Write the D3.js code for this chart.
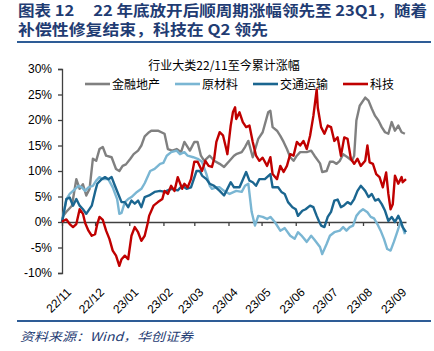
<!DOCTYPE html>
<html>
<head>
  <script src="https://cdnjs.cloudflare.com/ajax/libs/d3/7.8.5/d3.min.js" type="text/javascript"></script>
  <style>
    body { margin: 0; background: #fff; }
    svg { display: block; }
  </style>
</head>
<body>
  <svg id="chart" width="434" height="351"></svg>
  <script>

var seriesNames = ["金融地产", "原材料", "交通运输", "科技"];
var seriesColors = ["#808080", "#7ab6d3", "#1b6690", "#c00000"];
var yTicks = [-10, -5, 0, 5, 10, 15, 20, 25, 30];
var xTickLabels = ["22/11", "22/12", "23/01", "23/02", "23/03", "23/04", "23/05", "23/06", "23/07", "23/08", "23/09"];

// cumulative return since 2022-11 (%)
var finance = [
  ["2022-11-01", 0], ["2022-11-02", 1.2], ["2022-11-05", 2], ["2022-11-10", 3.2], ["2022-11-14", 8.4],
  ["2022-11-17", 6.5], ["2022-11-20", 7.4], ["2022-11-23", 5.2], ["2022-11-26", 6.5], ["2022-11-29", 12.4],
  ["2022-12-02", 12], ["2022-12-05", 14.3], ["2022-12-08", 14.7], ["2022-12-11", 13], ["2022-12-16", 12.7],
  ["2022-12-20", 10.4], ["2022-12-23", 10], ["2022-12-26", 11], ["2022-12-29", 11.3], ["2023-01-02", 12.4],
  ["2023-01-05", 13.3], ["2023-01-09", 14], ["2023-01-12", 15], ["2023-01-15", 16.8], ["2023-01-19", 17.6],
  ["2023-01-21", 17.9], ["2023-01-27", 17.9], ["2023-02-02", 17.3], ["2023-02-05", 14.3], ["2023-02-09", 14],
  ["2023-02-13", 14.3], ["2023-02-17", 13.7], ["2023-02-20", 15.7], ["2023-02-25", 14], ["2023-03-01", 15.7],
  ["2023-03-04", 15.7], ["2023-03-07", 13], ["2023-03-10", 12], ["2023-03-15", 13], ["2023-03-19", 12],
  ["2023-03-24", 11.4], ["2023-03-28", 10.8], ["2023-04-02", 12], ["2023-04-06", 13], ["2023-04-08", 13.3],
  ["2023-04-13", 13.7], ["2023-04-16", 14.7], ["2023-04-19", 15.9], ["2023-04-23", 12.7], ["2023-04-28", 16.3],
  ["2023-05-02", 17.6], ["2023-05-07", 21.5], ["2023-05-09", 21.8], ["2023-05-11", 18.6], ["2023-05-15", 17.9],
  ["2023-05-18", 16.9], ["2023-05-21", 15.7], ["2023-05-24", 14.3], ["2023-05-27", 12.7], ["2023-05-30", 12],
  ["2023-06-02", 13], ["2023-06-05", 13.7], ["2023-06-11", 13.7], ["2023-06-15", 14], ["2023-06-18", 13],
  ["2023-06-23", 11.5], ["2023-06-25", 9.8], ["2023-06-29", 10], ["2023-07-02", 11.8], ["2023-07-05", 11.8],
  ["2023-07-08", 11.4], ["2023-07-11", 12], ["2023-07-14", 13.3], ["2023-07-18", 12.7], ["2023-07-22", 12],
  ["2023-07-24", 13], ["2023-07-26", 19.9], ["2023-07-29", 22.8], ["2023-08-03", 24.4], ["2023-08-06", 23.8],
  ["2023-08-09", 22.2], ["2023-08-12", 20.8], ["2023-08-15", 19.9], ["2023-08-18", 18.6], ["2023-08-21", 17.6],
  ["2023-08-24", 17.3], ["2023-08-27", 19.6], ["2023-08-30", 17.9], ["2023-09-02", 18.9], ["2023-09-05", 17.6],
  ["2023-09-08", 17.3]
];

var materials = [
  ["2022-11-01", 0], ["2022-11-02", 1.2], ["2022-11-05", 4.5], ["2022-11-08", 5.5], ["2022-11-13", 6.5],
  ["2022-11-16", 7.1], ["2022-11-19", 6.8], ["2022-11-22", 6.1], ["2022-11-25", 6.8], ["2022-11-29", 7.1],
  ["2022-12-02", 8.1], ["2022-12-05", 8.8], ["2022-12-08", 8.4], ["2022-12-13", 8.4], ["2022-12-17", 6.8],
  ["2022-12-21", 4.5], ["2022-12-23", 1.6], ["2022-12-25", 1.8], ["2022-12-28", 3.9], ["2022-12-31", 4.5],
  ["2023-01-03", 4.9], ["2023-01-08", 5.9], ["2023-01-12", 6.5], ["2023-01-15", 7.6], ["2023-01-20", 10],
  ["2023-01-24", 10.4], ["2023-01-29", 11.4], ["2023-02-01", 11.6], ["2023-02-04", 13], ["2023-02-08", 13.7],
  ["2023-02-13", 14], ["2023-02-16", 13.3], ["2023-02-20", 13.7], ["2023-02-23", 13], ["2023-02-28", 12.7],
  ["2023-03-04", 12.4], ["2023-03-08", 11.8], ["2023-03-12", 9.4], ["2023-03-15", 7.1], ["2023-03-17", 6.5],
  ["2023-03-21", 6.8], ["2023-03-24", 6.8], ["2023-03-28", 6.1], ["2023-04-02", 5.5], ["2023-04-08", 6.1],
  ["2023-04-13", 5.9], ["2023-04-16", 7.1], ["2023-04-19", 7.5], ["2023-04-22", 2], ["2023-04-25", -0.7],
  ["2023-04-28", 1.2], ["2023-05-02", 1], ["2023-05-06", 0.6], ["2023-05-09", 1], ["2023-05-13", 0],
  ["2023-05-18", -1.7], ["2023-05-22", -1.2], ["2023-05-27", -2.7], ["2023-05-31", -3.3], ["2023-06-03", -2],
  ["2023-06-06", -2.6], ["2023-06-11", -3.9], ["2023-06-15", -2.7], ["2023-06-18", -3.5], ["2023-06-23", -4.9],
  ["2023-06-25", -6.3], ["2023-06-29", -4.3], ["2023-07-02", -2.7], ["2023-07-06", -2], ["2023-07-11", -1.7],
  ["2023-07-14", -1], ["2023-07-17", -1.7], ["2023-07-20", -1], ["2023-07-23", -0.7], ["2023-07-26", 1.2],
  ["2023-07-29", 2], ["2023-08-01", 2.5], ["2023-08-05", 1.9], ["2023-08-08", 1], ["2023-08-11", 0.7],
  ["2023-08-14", -0.4], ["2023-08-17", -1.7], ["2023-08-20", -3.3], ["2023-08-23", -5.3], ["2023-08-26", -5.6],
  ["2023-08-29", -3.9], ["2023-09-01", -2], ["2023-09-04", 0], ["2023-09-06", -1], ["2023-09-08", -2.4]
];

var transport = [
  ["2022-11-01", 0], ["2022-11-02", 1], ["2022-11-05", 4.5], ["2022-11-08", 4.8], ["2022-11-11", 3.2],
  ["2022-11-14", 4.5], ["2022-11-17", 3.2], ["2022-11-20", 2.5], ["2022-11-23", 1.6], ["2022-11-28", 3.2],
  ["2022-12-01", 5.9], ["2022-12-03", 7.5], ["2022-12-07", 8.4], ["2022-12-10", 8.8], ["2022-12-13", 8.4],
  ["2022-12-16", 8.8], ["2022-12-19", 7.1], ["2022-12-22", 5.5], ["2022-12-25", 3.9], ["2022-12-28", 3.9],
  ["2022-12-31", 2.9], ["2023-01-03", 4.2], ["2023-01-06", 3.6], ["2023-01-09", 4.2], ["2023-01-12", 2.9],
  ["2023-01-15", 4.9], ["2023-01-19", 5.2], ["2023-01-24", 5.9], ["2023-01-29", 6.1], ["2023-02-02", 5.9],
  ["2023-02-08", 6.5], ["2023-02-14", 6.2], ["2023-02-18", 7.1], ["2023-02-22", 6.5], ["2023-02-26", 6.8],
  ["2023-03-03", 10], ["2023-03-06", 10], ["2023-03-08", 9.1], ["2023-03-12", 8.4], ["2023-03-15", 7.5],
  ["2023-03-19", 7.1], ["2023-03-24", 6.1], ["2023-03-28", 5.2], ["2023-03-31", 6.5], ["2023-04-03", 7.8],
  ["2023-04-06", 6.8], ["2023-04-11", 6.8], ["2023-04-13", 7.8], ["2023-04-17", 9.8], ["2023-04-20", 8.1],
  ["2023-04-23", 7.8], ["2023-04-26", 7.1], ["2023-04-29", 8.4], ["2023-05-04", 8.4], ["2023-05-09", 9.4],
  ["2023-05-11", 6.8], ["2023-05-16", 6.8], ["2023-05-19", 5.9], ["2023-05-22", 5.5], ["2023-05-25", 3.9],
  ["2023-05-29", 2.9], ["2023-06-01", 2.5], ["2023-06-03", 1.2], ["2023-06-07", 2.2], ["2023-06-10", 2.5],
  ["2023-06-14", 3.2], ["2023-06-17", 2.9], ["2023-06-20", 1.2], ["2023-06-22", 0.2], ["2023-06-24", -0.7],
  ["2023-06-27", -1], ["2023-06-30", 1], ["2023-07-03", 2], ["2023-07-06", 4.2], ["2023-07-09", 4.4],
  ["2023-07-12", 2.9], ["2023-07-15", 3.3], ["2023-07-18", 3.9], ["2023-07-21", 3.5], ["2023-07-24", 4.5],
  ["2023-07-27", 6.1], ["2023-07-30", 7.1], ["2023-08-03", 6.1], ["2023-08-06", 4.9], ["2023-08-09", 5.5],
  ["2023-08-12", 4.2], ["2023-08-15", 4.5], ["2023-08-18", 3.5], ["2023-08-21", 2.2], ["2023-08-24", 0.2],
  ["2023-08-27", 1], ["2023-08-30", 0], ["2023-09-02", 1.2], ["2023-09-04", 0.3], ["2023-09-06", -1],
  ["2023-09-09", -2]
];

var tech = [
  ["2022-11-01", 0], ["2022-11-02", 0.2], ["2022-11-05", 0.5], ["2022-11-08", -0.4], ["2022-11-11", -1],
  ["2022-11-14", -0.4], ["2022-11-17", 2.5], ["2022-11-20", 1.6], ["2022-11-22", -0.2], ["2022-11-25", -1.7],
  ["2022-11-28", -2.7], ["2022-12-01", -2.4], ["2022-12-03", -0.4], ["2022-12-05", 1], ["2022-12-08", 0.4],
  ["2022-12-11", -1.7], ["2022-12-14", -3.3], ["2022-12-17", -5.6], ["2022-12-20", -6.6], ["2022-12-23", -8.6],
  ["2022-12-25", -7.3], ["2022-12-28", -6.6], ["2022-12-31", -7.3], ["2023-01-03", -2.7], ["2023-01-06", -1],
  ["2023-01-09", -2], ["2023-01-12", -3.7], ["2023-01-15", -2.7], ["2023-01-18", 0], ["2023-01-19", 1.2],
  ["2023-01-23", 3.2], ["2023-01-27", 3.9], ["2023-01-31", 4.5], ["2023-02-02", 6.1], ["2023-02-05", 5.5],
  ["2023-02-08", 7.1], ["2023-02-11", 6.1], ["2023-02-14", 8.8], ["2023-02-18", 6.5], ["2023-02-20", 7.5],
  ["2023-02-23", 6.8], ["2023-02-26", 8.4], ["2023-03-01", 11.8], ["2023-03-04", 11.8], ["2023-03-08", 10],
  ["2023-03-11", 12], ["2023-03-14", 11], ["2023-03-17", 10.8], ["2023-03-19", 12.4], ["2023-03-21", 15.7],
  ["2023-03-24", 17.6], ["2023-03-27", 17], ["2023-03-30", 14.3], ["2023-03-31", 13.3], ["2023-04-03", 18.9],
  ["2023-04-05", 21.5], ["2023-04-07", 22.5], ["2023-04-08", 20.2], ["2023-04-11", 21.5], ["2023-04-14", 19.6],
  ["2023-04-17", 18.6], ["2023-04-20", 18.9], ["2023-04-23", 15.7], ["2023-04-26", 13], ["2023-04-29", 12],
  ["2023-05-02", 12.6], ["2023-05-06", 11], ["2023-05-09", 12.7], ["2023-05-11", 9.4], ["2023-05-15", 8.4],
  ["2023-05-18", 11], ["2023-05-21", 9.8], ["2023-05-24", 11], ["2023-05-27", 13.3], ["2023-05-30", 13],
  ["2023-06-02", 15.7], ["2023-06-05", 15], ["2023-06-08", 15.9], ["2023-06-11", 14.3], ["2023-06-14", 16.9],
  ["2023-06-17", 20.8], ["2023-06-20", 26], ["2023-06-21", 22.4], ["2023-06-24", 18.6], ["2023-06-27", 17.3],
  ["2023-06-30", 18.9], ["2023-07-03", 18.6], ["2023-07-06", 15.9], ["2023-07-09", 16.6], ["2023-07-12", 13],
  ["2023-07-15", 16.6], ["2023-07-18", 16.3], ["2023-07-21", 12.4], ["2023-07-24", 11.4], ["2023-07-27", 12.4],
  ["2023-07-30", 11], ["2023-08-03", 12], ["2023-08-05", 15], ["2023-08-07", 11.7], ["2023-08-10", 11.4],
  ["2023-08-13", 9.4], ["2023-08-16", 8.8], ["2023-08-19", 6.8], ["2023-08-22", 9.7], ["2023-08-24", 5.5],
  ["2023-08-26", 2.5], ["2023-08-28", 3.5], ["2023-08-30", 9.1], ["2023-09-02", 7.5], ["2023-09-05", 8.8],
  ["2023-09-06", 7.8], ["2023-09-09", 8.4]
];

var allSeries = [finance, materials, transport, tech];

var parse = d3.timeParse("%Y-%m-%d");
var svg = d3.select("#chart");
var navy = "#1f3c73";

// page title
var title = svg.append("g")
    .style("font-family", "'Noto Sans CJK SC', sans-serif")
    .style("font-weight", "bold")
    .style("font-size", "15px")
    .attr("fill", navy);
title.append("text").attr("x", 18).attr("y", 16)
    .attr("textLength", 409).attr("lengthAdjust", "spacingAndGlyphs")
    .text("图表 12\u00a0\u00a0\u00a0\u00a0\u00a022 年底放开后顺周期涨幅领先至 23Q1，随着");
title.append("text").attr("x", 18).attr("y", 35)
    .attr("textLength", 250).attr("lengthAdjust", "spacingAndGlyphs")
    .text("补偿性修复结束，科技在 Q2 领先");

svg.append("line").attr("x1", 17).attr("x2", 431).attr("y1", 42).attr("y2", 42)
    .attr("stroke", "#2e5c96").attr("stroke-width", 2);
svg.append("line").attr("x1", 17).attr("x2", 431).attr("y1", 321).attr("y2", 321)
    .attr("stroke", "#2e5c96").attr("stroke-width", 2);

svg.append("text").attr("x", 20).attr("y", 341)
    .style("font-family", "'Noto Sans CJK SC', serif")
    .style("font-style", "italic")
    .style("font-size", "12px")
    .attr("fill", navy)
    .attr("textLength", 173).attr("lengthAdjust", "spacingAndGlyphs")
    .text("资料来源：Wind，华创证券");

// scales
var x = d3.scaleTime()
    .domain([parse("2022-11-01"), parse("2023-09-09")])
    .range([62, 406]);
var y = d3.scaleLinear().domain([-10, 30]).range([273, 69]);

var axisColor = "#404040";

var yAxis = svg.append("g")
    .attr("transform", "translate(62,0)")
    .call(d3.axisLeft(y).tickValues(yTicks).tickSize(4).tickPadding(6)
      .tickFormat(function(d) { return d + "%"; }));
yAxis.select(".domain").attr("stroke", axisColor).attr("stroke-width", 1.3);
yAxis.selectAll(".tick line").attr("stroke", axisColor).attr("stroke-width", 1.3);
yAxis.selectAll("text")
    .style("font-family", "'Liberation Sans', Arial, sans-serif")
    .style("font-size", "12px").attr("fill", "#000");

var monthTicks = d3.timeMonth.range(parse("2022-11-01"), parse("2023-09-02"));
var xAxis = svg.append("g")
    .attr("transform", "translate(0," + y(0) + ")")
    .call(d3.axisBottom(x).tickValues(monthTicks).tickSize(4).tickSizeOuter(0)
      .tickFormat(""));
xAxis.select(".domain").attr("stroke", axisColor).attr("stroke-width", 1.3);
xAxis.selectAll(".tick line").attr("stroke", axisColor).attr("stroke-width", 1.3);

// x labels sit below the plot
svg.append("g").selectAll("text")
    .data(monthTicks)
    .enter().append("text")
    .attr("transform", function(d, i) { return "translate(" + (x(d) + 4) + ",287) rotate(-45)"; })
    .attr("text-anchor", "end")
    .attr("dy", "0.7em")
    .style("font-family", "'Liberation Sans', Arial, sans-serif")
    .style("font-size", "12px")
    .attr("fill", "#000")
    .text(function(d, i) { return xTickLabels[i]; });

// lines
var line = d3.line()
    .x(function(d) { return x(parse(d[0])); })
    .y(function(d) { return y(d[1]); });

svg.append("g").selectAll("path")
    .data(allSeries)
    .enter().append("path")
    .attr("d", line)
    .attr("fill", "none")
    .attr("stroke", function(d, i) { return seriesColors[i]; })
    .attr("stroke-width", 2.4)
    .attr("stroke-linejoin", "round");

// chart title and legend
svg.append("text").attr("x", 224).attr("y", 70)
    .attr("text-anchor", "middle")
    .style("font-family", "'Noto Sans CJK SC', sans-serif")
    .style("font-size", "12px")
    .attr("fill", "#000")
    .text("行业大类22/11至今累计涨幅");

var legendX = [85, 175, 253, 343];
var legend = svg.append("g").selectAll("g")
    .data(seriesNames)
    .enter().append("g")
    .attr("transform", function(d, i) { return "translate(" + legendX[i] + ",84)"; });
legend.append("line")
    .attr("x1", 0).attr("x2", 25)
    .attr("stroke", function(d, i) { return seriesColors[i]; })
    .attr("stroke-width", 2.6);
legend.append("text")
    .attr("x", 27).attr("y", 4.5)
    .style("font-family", "'Noto Sans CJK SC', sans-serif")
    .style("font-size", "12px")
    .attr("fill", "#000")
    .text(function(d) { return d; });

  </script>
</body>
</html>
